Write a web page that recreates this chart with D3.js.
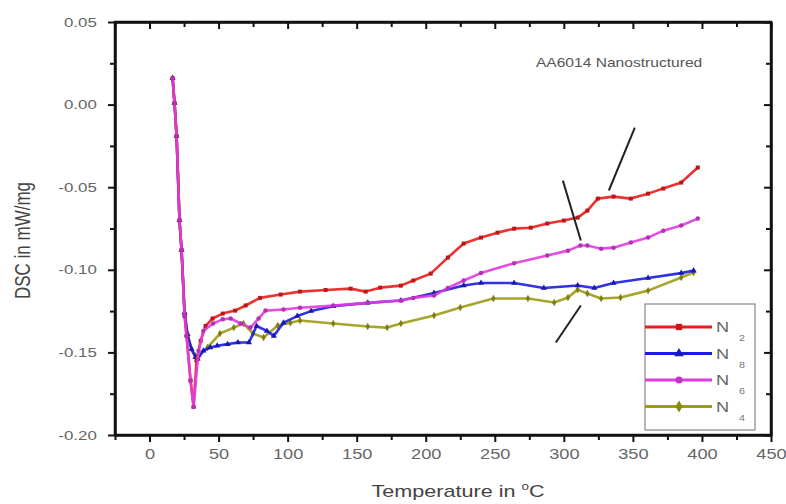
<!DOCTYPE html>
<html><head><meta charset="utf-8">
<script src="https://d3js.org/d3.v7.min.js"></script>
<style>body{margin:0;background:#fff}svg{display:block}text{font-family:"Liberation Sans",Arial,sans-serif}</style>
</head><body><svg id="c" width="786" height="504"></svg>
<script>
// ---- data (Temperature °C, DSC mW/mg) ----
const seriesNames = ["N2", "N8", "N6", "N4"];
const legendMain = ["N", "N", "N", "N"];
const legendSub = ["2", "8", "6", "4"];
const n2Data = [[16.7,0.016],[18.1,0.001],[19.6,-0.019],[21.7,-0.070],[23.2,-0.088],[25.4,-0.128],[26.8,-0.140],[29.7,-0.167],[31.9,-0.183],[34,-0.155],[37,-0.143],[40.6,-0.134],[45.6,-0.1295],[53,-0.1265],[62,-0.1247],[69.6,-0.1216],[80,-0.117],[95,-0.115],[109,-0.1132],[127.5,-0.1122],[145.6,-0.1114],[156.5,-0.1132],[167,-0.1108],[182,-0.1096],[191,-0.1065],[203.6,-0.1023],[216,-0.0926],[227.5,-0.0841],[240,-0.0805],[252,-0.0775],[264,-0.0751],[276,-0.0745],[288,-0.072],[300,-0.0702],[310,-0.0684],[317,-0.0642],[324.6,-0.0569],[336,-0.0557],[348.5,-0.0569],[361,-0.0539],[372,-0.0508],[385,-0.0472],[397,-0.0381]];
const n8Data = [[16.7,0.016],[18.1,0.001],[19.6,-0.019],[21.7,-0.070],[23.2,-0.088],[25.4,-0.126],[27.5,-0.139],[30.4,-0.148],[33.3,-0.153],[34.8,-0.154],[39,-0.149],[44,-0.147],[49,-0.146],[56.5,-0.145],[64,-0.144],[72,-0.144],[77.5,-0.134],[85,-0.137],[90,-0.140],[97,-0.132],[107,-0.128],[117,-0.125],[133,-0.122],[158,-0.120],[182,-0.1186],[206,-0.114],[227.5,-0.1095],[240,-0.108],[264,-0.108],[285.5,-0.111],[310,-0.1095],[322,-0.111],[336,-0.108],[361,-0.105],[385,-0.102],[394,-0.1005]];
const n6Data = [[16.7,0.016],[18.1,0.001],[19.6,-0.019],[21.7,-0.070],[23.2,-0.088],[25.4,-0.128],[26.8,-0.140],[29.7,-0.167],[31.9,-0.183],[35.5,-0.149],[39,-0.137],[46,-0.1325],[53,-0.130],[58.7,-0.1295],[66,-0.1325],[73,-0.135],[79,-0.1295],[84,-0.1247],[97,-0.124],[109,-0.123],[133,-0.1217],[158,-0.120],[182,-0.1186],[191,-0.117],[206,-0.1156],[216,-0.111],[227.5,-0.1065],[240,-0.102],[264,-0.096],[288,-0.0914],[303,-0.0884],[312,-0.0853],[317,-0.0853],[327,-0.0872],[336,-0.0866],[348.5,-0.0835],[361,-0.0805],[372,-0.0763],[385,-0.0732],[397,-0.069]];
const n4Data = [[16.7,0.016],[18.1,0.001],[19.6,-0.019],[21.7,-0.070],[23.2,-0.088],[25.4,-0.126],[27.5,-0.139],[30.4,-0.148],[33.3,-0.152],[34.8,-0.153],[42,-0.147],[51,-0.1386],[61,-0.135],[68,-0.1325],[75,-0.1386],[82.6,-0.141],[92.8,-0.1337],[102,-0.132],[109,-0.1307],[133,-0.1325],[158,-0.1343],[172,-0.135],[182,-0.1325],[206,-0.1277],[225,-0.1228],[249,-0.1174],[274,-0.1174],[293,-0.1198],[303,-0.1168],[310,-0.112],[317,-0.1144],[327,-0.1174],[341,-0.1168],[361,-0.1126],[385,-0.1047],[394,-0.1017]];
const xTicks = [0, 50, 100, 150, 200, 250, 300, 350, 400, 450];
const xTickLabels = ["0", "50", "100", "150", "200", "250", "300", "350", "400", "450"];
const yTicks = [-0.20, -0.15, -0.10, -0.05, 0.00, 0.05];
const yTickLabels = ["-0.20", "-0.15", "-0.10", "-0.05", "0.00", "0.05"];
const annotationText = "AA6014 Nanostructured";
const arrows = [[[351.4,-0.0139],[332.6,-0.052]],[[299.3,-0.046],[312.3,-0.0823]],[[294.2,-0.144],[312.3,-0.1216]]];

// ---- drawing ----
const colors = ["#e81c1c", "#1c1ce0", "#e03ce0", "#9c9c14"];
const symbols = [d3.symbolSquare, d3.symbolTriangle, d3.symbolCircle, d3.symbolDiamond];
const allData = [n2Data, n8Data, n6Data, n4Data];
const svg = d3.select("#c");
const L = 115, R = 771, T = 22, B = 435;
const x = d3.scaleLinear([-25, 450], [L, R]);
const y = d3.scaleLinear([-0.20, 0.05], [B, T]);
const SX = 1.3;

const line = d3.line().x(d => x(d[0])).y(d => y(d[1]));
// draw order: olive, blue, red, magenta on top
[3, 1, 0, 2].forEach(i => {
  svg.append("path").datum(allData[i]).attr("d", line).attr("fill", "none")
    .attr("stroke", colors[i]).attr("stroke-width", 2.6).attr("stroke-linejoin", "round").attr("opacity", 0.9);
  svg.append("g").selectAll("path").data(allData[i]).join("path")
    .attr("transform", d => `translate(${x(d[0])},${y(d[1])})`)
    .attr("d", d3.symbol(symbols[i], 16)).attr("fill", d3.color(colors[i]).darker(0.6));
});

// arrows (plain black strokes)
svg.append("g").selectAll("line").data(arrows).join("line")
  .attr("x1", d => x(d[0][0])).attr("y1", d => y(d[0][1]))
  .attr("x2", d => x(d[1][0])).attr("y2", d => y(d[1][1]))
  .attr("stroke", "#222").attr("stroke-width", 2);

// axes
const minorX = d3.range(-25, 451, 25).filter(v => v % 50 !== 0);
const minorY = [-0.175, -0.125, -0.075, -0.025, 0.025];
function drawAxis(axisGen, tr, ticks, labels, showLabels) {
  const g = svg.append("g").attr("transform", tr);
  g.call(axisGen.tickValues(ticks).tickFormat((d, i) => showLabels ? labels[i] : "").tickSizeOuter(0));
  g.select(".domain").attr("stroke", "#111").attr("stroke-width", 2.5);
  g.selectAll(".tick line").attr("stroke", "#111").attr("stroke-width", 2);
  return g;
}
function drawMinor(axisGen, tr, ticks) {
  svg.append("g").attr("transform", tr).call(axisGen.tickValues(ticks).tickSize(5).tickFormat("").tickSizeOuter(0))
    .call(g => { g.select(".domain").remove(); g.selectAll("line").attr("stroke", "#111").attr("stroke-width", 2); });
}
const gb = drawAxis(d3.axisBottom(x).tickSize(7), `translate(0,${B})`, xTicks, xTickLabels, true);
gb.selectAll(".tick text").attr("fill", "#666").attr("font-size", 14).attr("y", 14)
  .attr("transform", `scale(${SX},1)`).attr("dy", "0.71em");
drawMinor(d3.axisBottom(x), `translate(0,${B})`, minorX);
drawAxis(d3.axisBottom(x).tickSize(7), `translate(0,${T})`, xTicks, xTickLabels, false);
drawMinor(d3.axisBottom(x), `translate(0,${T})`, minorX);
const gl = drawAxis(d3.axisLeft(y).tickSize(7), `translate(${L},0)`, yTicks, yTickLabels, true);
gl.selectAll(".tick text").attr("fill", "#666").attr("font-size", 13).attr("x", -14)
  .attr("transform", `scale(${SX},1)`);
drawMinor(d3.axisLeft(y), `translate(${L},0)`, minorY);
drawAxis(d3.axisLeft(y).tickSize(7), `translate(${R},0)`, yTicks, yTickLabels, false);
drawMinor(d3.axisLeft(y), `translate(${R},0)`, minorY);
svg.append("rect").attr("x", L).attr("y", T).attr("width", R - L).attr("height", B - T)
  .attr("fill", "none").attr("stroke", "#111").attr("stroke-width", 2.5);

// axis titles
const xt = svg.append("text").attr("transform", `translate(${(L + R) / 2 + 15},497) scale(1.35,1)`)
  .attr("text-anchor", "middle").attr("font-size", 16).attr("fill", "#444");
xt.append("tspan").text("Temperature in ");
xt.append("tspan").attr("font-size", 10).attr("dy", -7).text("o");
xt.append("tspan").attr("dy", 7).text("C");
svg.append("text").attr("transform", `translate(30,${(T + B) / 2 + 12}) rotate(-90) scale(1,1.3)`)
  .attr("text-anchor", "middle").attr("font-size", 17).attr("fill", "#444").text("DSC in mW/mg");

// annotation
svg.append("text").attr("transform", `translate(${x(340)},67) scale(1.3,1)`).attr("text-anchor", "middle")
  .attr("font-size", 12).attr("fill", "#555").text(annotationText);

// legend
const lg = svg.append("g");
lg.append("rect").attr("x", 645).attr("y", 304).attr("width", 110).attr("height", 126)
  .attr("fill", "#fff").attr("stroke", "#888").attr("stroke-width", 1.2);
seriesNames.forEach((s, i) => {
  const yy = 327 + i * 26.5;
  lg.append("line").attr("x1", 645).attr("x2", 712).attr("y1", yy).attr("y2", yy)
    .attr("stroke", colors[i]).attr("stroke-width", 3);
  lg.append("path").attr("transform", `translate(679,${yy})`).attr("d", d3.symbol(symbols[i], 40))
    .attr("fill", d3.color(colors[i]).darker(0.4));
  lg.append("text").attr("transform", `translate(716,${yy + 5}) scale(1.3,1)`).attr("font-size", 14)
    .attr("fill", "#666").text(legendMain[i]);
  lg.append("text").attr("transform", `translate(739,${yy + 14}) scale(1.2,1)`).attr("font-size", 9)
    .attr("fill", "#777").text(legendSub[i]);
});
</script></body></html>
